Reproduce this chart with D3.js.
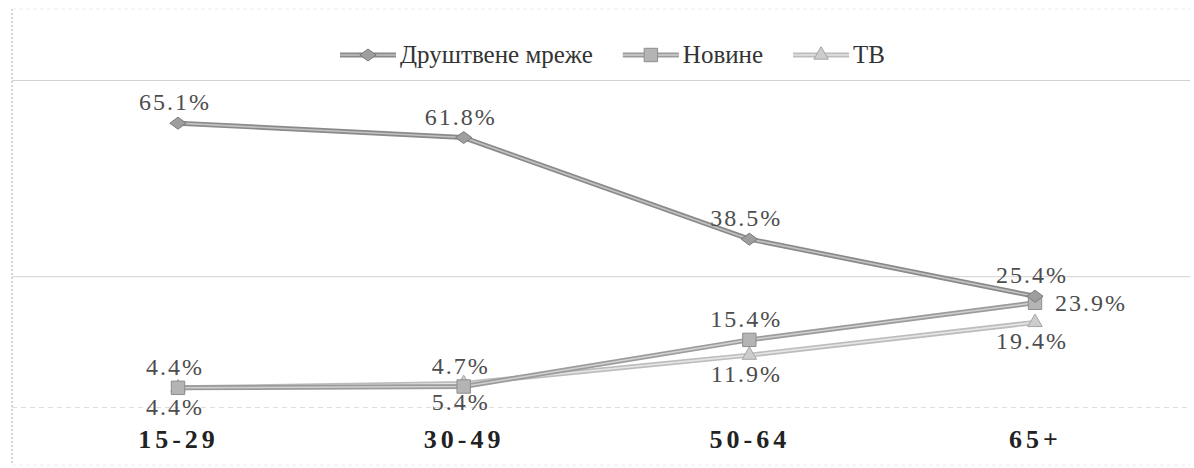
<!DOCTYPE html>
<html><head><meta charset="utf-8">
<script src="https://cdn.jsdelivr.net/npm/d3@7"></script>
<style>
html,body{margin:0;padding:0;background:#fff;}
svg{display:block;}
</style></head>
<body><svg id="chart" width="1194" height="468"></svg>
<script>
const categories = ["15-29", "30-49", "50-64", "65+"];
const seriesNames = ["Друштвене мреже", "Новине", "ТВ"];
const socialValues = [65.1, 61.8, 38.5, 25.4];
const newsValues = [4.4, 4.7, 15.4, 23.9];
const tvValues = [4.4, 5.4, 11.9, 19.4];
const socialLabelPos = ["above", "above", "above", "above"];
const newsLabelPos = ["above", "above", "above", "right"];
const tvLabelPos = ["below", "below", "below", "below"];
const gridValues = [0, 30, 75];

const FONT = "Liberation Serif";
const svg = d3.select("#chart");
const x = d3.scalePoint().domain(categories).range([178, 1035]);
const y = d3.scaleLinear().domain([0, 75]).range([407, 80]);

// border (faint, scanned look)
svg.append("line").attr("x1", 12).attr("x2", 12).attr("y1", 9).attr("y2", 465)
  .attr("stroke", "#aaa").attr("stroke-width", 1).attr("stroke-dasharray", "2,2");
svg.append("line").attr("x1", 12).attr("x2", 1190).attr("y1", 9).attr("y2", 9)
  .attr("stroke", "#ececec").attr("stroke-width", 1).attr("stroke-dasharray", "4,3");
svg.append("line").attr("x1", 12).attr("x2", 1190).attr("y1", 465).attr("y2", 465)
  .attr("stroke", "#ececec").attr("stroke-width", 1).attr("stroke-dasharray", "4,3");

// gridlines via axis
const grid = svg.append("g").attr("transform", "translate(12,0)")
  .call(d3.axisLeft(y).tickValues(gridValues).tickSize(-1178).tickFormat(""));
grid.select(".domain").remove();
grid.selectAll(".tick line")
  .attr("stroke", d => d === 0 ? "#dedede" : "#d2d2d2")
  .attr("stroke-dasharray", d => d === 0 ? "5,4" : null);

// x axis labels
const xa = svg.append("g").attr("transform", "translate(0,430)")
  .call(d3.axisBottom(x).tickSize(0).tickPadding(0));
xa.attr("font-family", FONT);
xa.select(".domain").remove();
xa.selectAll(".tick text")
  .attr("y", 18).attr("dy", 0).attr("dx", 0)
  .attr("font-family", FONT)
  .attr("font-size", 26).attr("font-weight", "bold")
  .attr("letter-spacing", "4px")
  .attr("fill", "#222");

// symbols
const diamondType = {draw(ctx, size){ const r = Math.sqrt(size)/2; ctx.moveTo(-r*1.15,0); ctx.lineTo(0,-r*0.85); ctx.lineTo(r*1.15,0); ctx.lineTo(0,r*0.85); ctx.closePath(); }};
const series = [
  {name: seriesNames[2], values: tvValues, pos: tvLabelPos, type: d3.symbolTriangle, size: 90,
   outer: "#bcbcbc", inner: "#e4e4e4", fill: "#cdcdcd", mstroke: "#a5a5a5"},
  {name: seriesNames[1], values: newsValues, pos: newsLabelPos, type: d3.symbolSquare, size: 180,
   outer: "#9b9b9b", inner: "#d0d0d0", fill: "#b4b4b4", mstroke: "#8e8e8e"},
  {name: seriesNames[0], values: socialValues, pos: socialLabelPos, type: diamondType, size: 200,
   outer: "#8a8a8a", inner: "#c2c2c2", fill: "#9e9e9e", mstroke: "#7a7a7a"}
];

const line = d3.line().x((d, i) => x(categories[i])).y(d => y(d));

series.forEach(s => {
  const g = svg.append("g");
  g.append("path").datum(s.values).attr("d", line).attr("fill", "none")
    .attr("stroke", s.outer).attr("stroke-width", 5).attr("stroke-linejoin", "round");
  g.append("path").datum(s.values).attr("d", line).attr("fill", "none")
    .attr("stroke", s.inner).attr("stroke-width", 1.6).attr("stroke-linejoin", "round");
  g.selectAll("path.m").data(s.values).join("path").attr("class", "m")
    .attr("transform", (d, i) => `translate(${x(categories[i])},${y(d)})`)
    .attr("d", d3.symbol().type(s.type).size(s.size))
    .attr("fill", s.fill).attr("stroke", s.mstroke).attr("stroke-width", 1);
});

// labels (drawn after all lines)
series.forEach(s => {
  svg.append("g").selectAll("text").data(s.values).join("text")
    .attr("x", (d, i) => s.pos[i] === "right" ? x(categories[i]) + 20 : x(categories[i]) - 3)
    .attr("y", (d, i) => s.pos[i] === "above" ? y(d) - 13 : s.pos[i] === "below" ? y(d) + 27 : y(d) + 8)
    .attr("text-anchor", (d, i) => s.pos[i] === "right" ? "start" : "middle")
    .attr("font-family", FONT)
    .attr("font-size", 24).attr("letter-spacing", "2px")
    .attr("fill", "#4d4d4d")
    .text(d => d.toFixed(1) + "%");
});

// legend
const legendOrder = [series[2], series[1], series[0]];
let lx = 340;
const ly = 55;
legendOrder.forEach(s => {
  const g = svg.append("g");
  g.append("line").attr("x1", lx).attr("x2", lx + 56).attr("y1", ly).attr("y2", ly)
    .attr("stroke", s.outer).attr("stroke-width", 5);
  g.append("line").attr("x1", lx).attr("x2", lx + 56).attr("y1", ly).attr("y2", ly)
    .attr("stroke", s.inner).attr("stroke-width", 1.6);
  g.append("path").attr("transform", `translate(${lx + 28},${ly})`)
    .attr("d", d3.symbol().type(s.type).size(s.size))
    .attr("fill", s.fill).attr("stroke", s.mstroke);
  const t = g.append("text").attr("x", lx + 60).attr("y", ly + 8)
    .attr("font-family", FONT)
    .attr("font-size", 25).attr("fill", "#333").text(s.name);
  lx += 60 + t.node().getComputedTextLength() + 30;
});
</script></body></html>
